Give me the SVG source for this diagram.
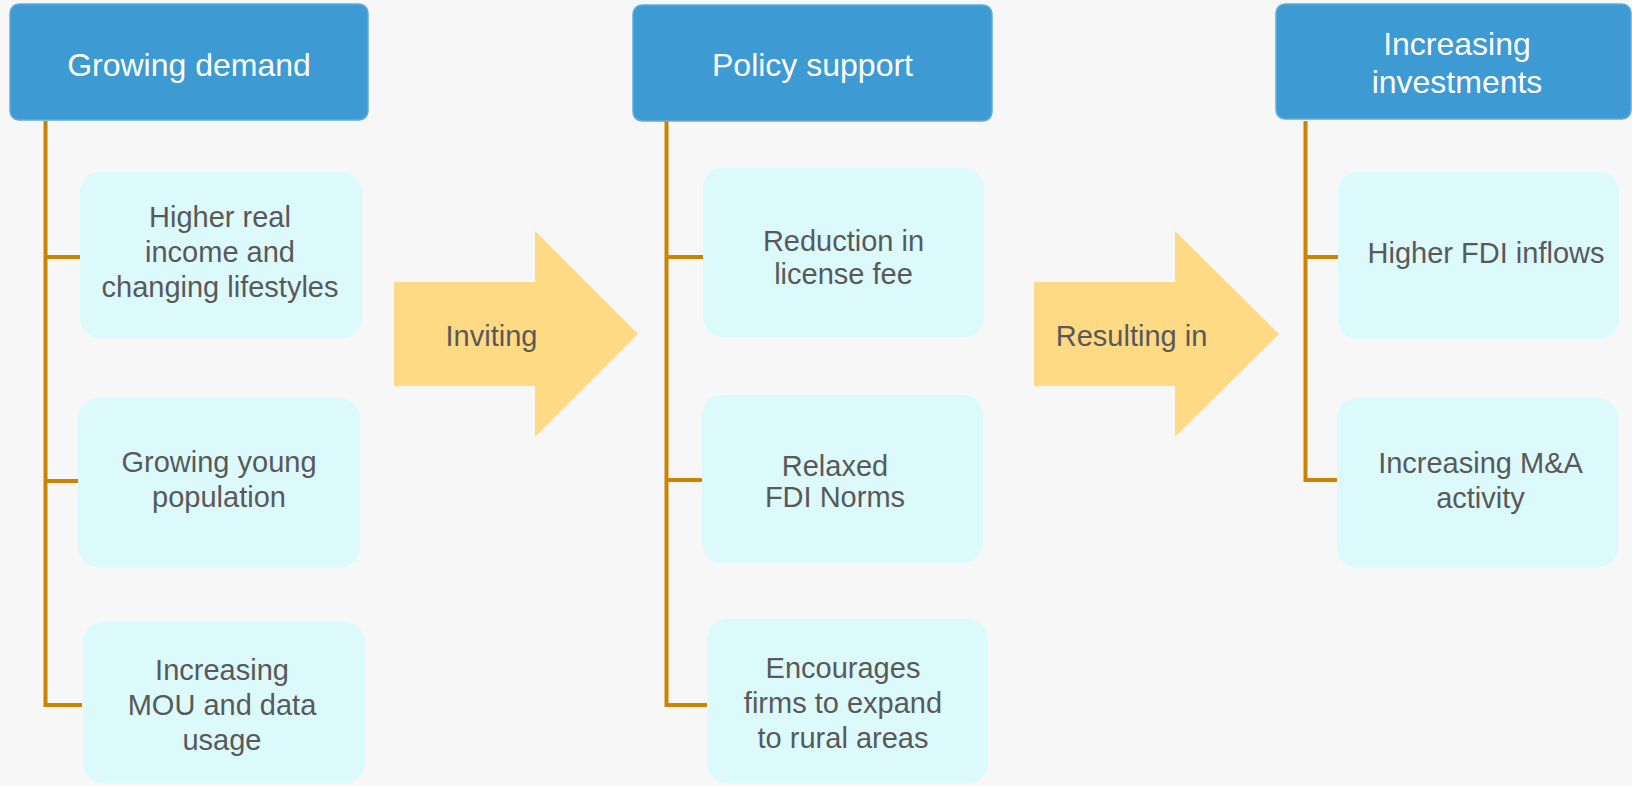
<svg xmlns="http://www.w3.org/2000/svg" width="1632" height="786" viewBox="0 0 1632 786">
<style>
.hdr{fill:#3D9AD3;stroke:#62ACDB;stroke-width:1.5}
.box{fill:#DCFAFC}
.arr{fill:#FFDA85}
.ht{font-family:"Liberation Sans",Arial,sans-serif;font-size:32px;fill:#FFFFFF;text-anchor:middle}
.bt{font-family:"Liberation Sans",Arial,sans-serif;font-size:29px;fill:#595959;text-anchor:middle}
.ln{fill:none;stroke:#CC8400;stroke-width:4;stroke-linejoin:miter}
</style>
<rect width="1632" height="786" fill="#F7F7F7"/>
<g id="connectors">
<path class="ln" d="M45.5 121 V705 H82 M45.5 257 H80 M45.5 481 H78"/>
<path class="ln" d="M666.5 121 V705 H707 M666.5 257 H703 M666.5 480 H702"/>
<path class="ln" d="M1305.5 121 V480 H1337 M1305.5 257 H1338"/>
</g>
<g id="arrow-inviting">
<polygon class="arr" points="394,282 535,282 535,231 638,334 535,437 535,386 394,386"/>
<text class="bt" x="491.5" y="346">Inviting</text>
</g>
<g id="arrow-resulting">
<polygon class="arr" points="1034,282 1175,282 1175,231 1279,334 1175,437 1175,386 1034,386"/>
<text class="bt" x="1131.5" y="346">Resulting in</text>
</g>
<g id="hdr-demand">
<rect class="hdr" x="10" y="4" width="358" height="116" rx="9"/>
<text class="ht" x="189" y="76">Growing demand</text>
</g>
<g id="hdr-policy">
<rect class="hdr" x="633" y="5" width="359" height="116" rx="9"/>
<text class="ht" x="812.5" y="76">Policy support</text>
</g>
<g id="hdr-invest">
<rect class="hdr" x="1276" y="4" width="355" height="115" rx="9"/>
<text class="ht" x="1457" y="55">Increasing</text>
<text class="ht" x="1457" y="92.5">investments</text>
</g>
<g id="box-income">
<rect class="box" x="80" y="172" width="282" height="166" rx="20"/>
<text class="bt" x="220" y="227">Higher real</text>
<text class="bt" x="220" y="262">income and</text>
<text class="bt" x="220" y="297">changing lifestyles</text>
</g>
<g id="box-young">
<rect class="box" x="78" y="398" width="282" height="169" rx="20"/>
<text class="bt" x="219" y="472">Growing young</text>
<text class="bt" x="219" y="507">population</text>
</g>
<g id="box-mou">
<rect class="box" x="83" y="622" width="282" height="161" rx="20"/>
<text class="bt" x="222" y="680">Increasing</text>
<text class="bt" x="222" y="715">MOU and data</text>
<text class="bt" x="222" y="750">usage</text>
</g>
<g id="box-license">
<rect class="box" x="703" y="168" width="281" height="169" rx="20"/>
<text class="bt" x="843.5" y="251">Reduction in</text>
<text class="bt" x="843.5" y="283.5">license fee</text>
</g>
<g id="box-fdi-norms">
<rect class="box" x="702" y="395" width="281" height="168" rx="20"/>
<text class="bt" x="835" y="476">Relaxed</text>
<text class="bt" x="835" y="507">FDI Norms</text>
</g>
<g id="box-rural">
<rect class="box" x="707" y="619" width="281" height="164" rx="20"/>
<text class="bt" x="843" y="678">Encourages</text>
<text class="bt" x="843" y="713">firms to expand</text>
<text class="bt" x="843" y="748">to rural areas</text>
</g>
<g id="box-fdi-inflows">
<rect class="box" x="1338" y="172" width="281" height="167" rx="20"/>
<text class="bt" x="1486" y="263">Higher FDI inflows</text>
</g>
<g id="box-ma">
<rect class="box" x="1337" y="398" width="281" height="169" rx="20"/>
<text class="bt" x="1480.5" y="473">Increasing M&amp;A</text>
<text class="bt" x="1480.5" y="508">activity</text>
</g>
</svg>
